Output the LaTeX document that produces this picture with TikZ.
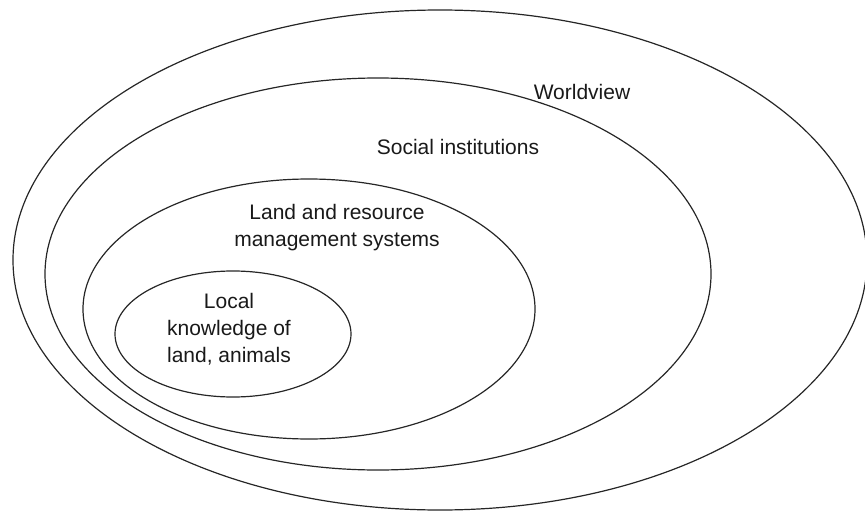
\documentclass[tikz,border=0pt]{standalone}
\usepackage{fontspec}
\setmainfont{Liberation Sans}

\begin{document}
\begin{tikzpicture}[x=1pt,y=-1pt]
\tikzstyle{every node}=[align=center, inner sep=0pt, text=black!90, font=\fontsize{21}{27}\selectfont]
\tikzstyle{ring}=[draw=black!85, line width=1.2pt]
\useasboundingbox (0,0) rectangle (865,511);
% nested levels, widest first
\draw[ring] (440,260) ellipse (427pt and 250pt);
\draw[ring] (378,274) ellipse (333pt and 196pt);
\draw[ring] (309,309) ellipse (226pt and 130pt);
\draw[ring] (233,334) ellipse (118pt and 63pt);
% labels
\node (worldview) at (582,92) {Worldview};
\node (social) at (458,147) {Social institutions};
\node (landres) at (337,228) {Land and resource\\management systems};
\node (local) at (229,329) {Local\\knowledge of\\land, animals};
\end{tikzpicture}
\end{document}
